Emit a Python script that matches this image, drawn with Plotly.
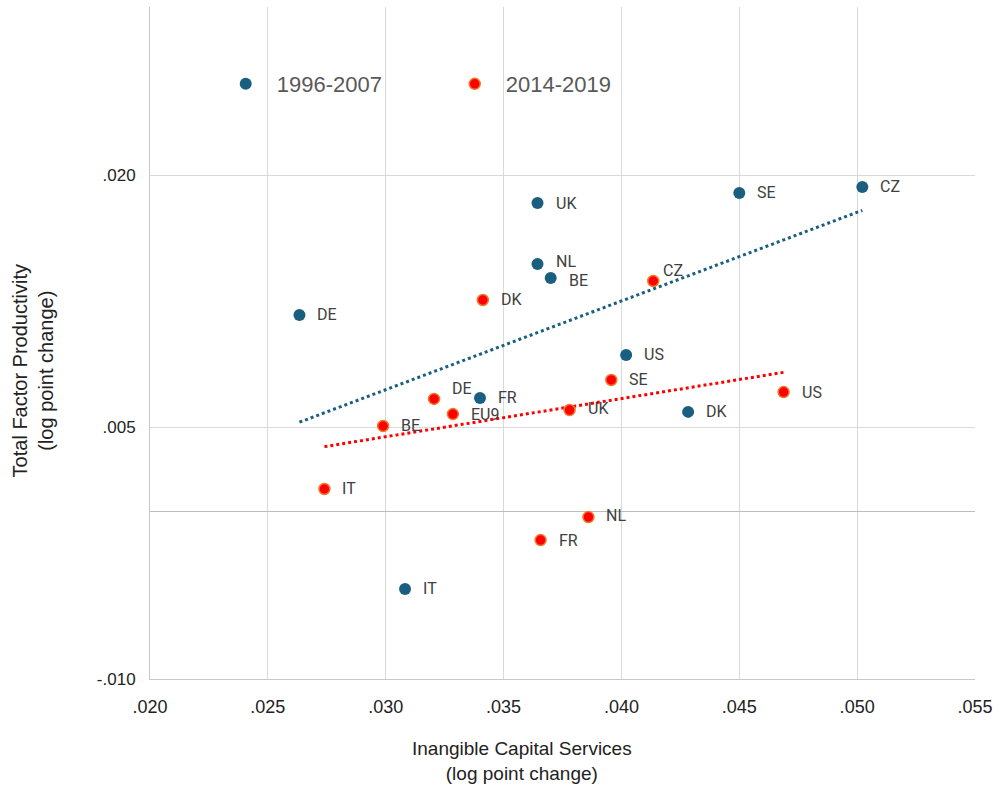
import numpy as np
import plotly.graph_objects as go

# 1996-2007 period
early_countries = ["DE", "UK", "NL", "BE", "SE", "CZ", "US", "FR", "DK", "IT"]
early_ics = [0.02634, 0.03644, 0.03644, 0.0370, 0.0450, 0.05022, 0.0402, 0.0340, 0.04283, 0.03082]
early_tfp = [0.01167, 0.01833, 0.0147, 0.01387, 0.01893, 0.01929, 0.00929, 0.00673, 0.0059, -0.00464]

# 2014-2019 period
late_countries = ["DK", "CZ", "SE", "US", "DE", "EU9", "UK", "BE", "IT", "NL", "FR"]
late_ics = [0.03412, 0.04135, 0.03957, 0.04688, 0.03205, 0.03285, 0.0378, 0.02989, 0.0274, 0.0386, 0.03657]
late_tfp = [0.01256, 0.01369, 0.0078, 0.00708, 0.00667, 0.00577, 0.00601, 0.00506, 0.00131, -0.00036, -0.00173]

x_tickvals = [0.020, 0.025, 0.030, 0.035, 0.040, 0.045, 0.050, 0.055]
x_ticktext = [".020", ".025", ".030", ".035", ".040", ".045", ".050", ".055"]
y_tickvals = [-0.010, 0.005, 0.020]
y_ticktext = ["-.010", ".005", ".020"]

BLUE = "#1b5f80"
RED = "#ff0000"
RED_EDGE = "#f07a2a"
LABEL_FONT = dict(family="Roboto, Arial, sans-serif", size=16, color="#404040")

fig = go.Figure()


def trend(xs, ys):
    xs = np.asarray(xs)
    ys = np.asarray(ys)
    slope, icpt = np.polyfit(xs, ys, 1)
    ends = np.array([xs.min(), xs.max()])
    return ends, slope * ends + icpt


# linear trend lines (dotted)
tx, ty = trend(early_ics, early_tfp)
fig.add_trace(go.Scatter(x=tx, y=ty, mode="lines", showlegend=False, hoverinfo="skip",
                         line=dict(color=BLUE, width=3, dash="dot")))
tx, ty = trend(late_ics, late_tfp)
fig.add_trace(go.Scatter(x=tx, y=ty, mode="lines", showlegend=False, hoverinfo="skip",
                         line=dict(color=RED, width=3, dash="dot")))

fig.add_trace(go.Scatter(
    x=early_ics, y=early_tfp, mode="markers", name="\u20021996-2007",
    marker=dict(size=12, color=BLUE, line=dict(width=0)),
))
fig.add_trace(go.Scatter(
    x=late_ics, y=late_tfp, mode="markers", name="\u20022014-2019",
    marker=dict(size=11, color=RED, line=dict(width=1.5, color=RED_EDGE)),
))

# country labels to the right of each point (a few nudged to avoid overlaps)
label_nudge = {("late", "DE"): (16, 10), ("late", "UK"): (16, 2), ("late", "NL"): (16, 2),
               ("late", "CZ"): (8, 11), ("early", "NL"): (16, 3), ("early", "BE"): (16, -3)}
annotations = []
for tag, names, xs, ys in (("early", early_countries, early_ics, early_tfp),
                           ("late", late_countries, late_ics, late_tfp)):
    for n, xv, yv in zip(names, xs, ys):
        dx, dy = label_nudge.get((tag, n), (16, 0))
        annotations.append(dict(
            x=xv, y=yv, xref="x", yref="y", text=n, showarrow=False,
            xanchor="left", yanchor="middle", xshift=dx, yshift=dy, font=LABEL_FONT,
        ))

# axis titles
annotations.append(dict(
    x=523, y=761, xref="paper", yref="paper", showarrow=False,
    text="Inangible Capital Services<br>(log point change)",
    font=dict(family="Liberation Sans Narrow, Arial Narrow, Arial, sans-serif", size=19, color="#222222"),
    align="center", xanchor="center", yanchor="middle",
))
annotations.append(dict(
    x=33, y=371, xref="paper", yref="paper", showarrow=False,
    text="Total Factor Productivity<br>(log point change)", textangle=-90,
    font=dict(family="Liberation Sans, Arial, sans-serif", size=20, color="#222222"),
    align="center", xanchor="center", yanchor="middle",
))

# convert the pixel-placed titles into paper coordinates
L, R, T, B = 150, 22, 7, 110
W, H = 1000, 789
pw, ph = W - L - R, H - T - B
for a in annotations[-2:]:
    a["x"] = (a["x"] - L) / pw
    a["y"] = (H - B - a["y"]) / ph

fig.update_layout(
    width=W, height=H,
    margin=dict(l=L, r=R, t=T, b=B),
    paper_bgcolor="white", plot_bgcolor="white",
    font=dict(family="Liberation Sans, Arial, sans-serif", color="#404040"),
    annotations=annotations,
    legend=dict(
        orientation="h", x=(226 - L) / pw, y=(H - B - 84) / ph,
        xanchor="left", yanchor="middle", bgcolor="rgba(0,0,0,0)",
        font=dict(family="Liberation Sans, Arial, sans-serif", size=22, color="#595959"),
        entrywidth=184, itemsizing="trace",
    ),
    xaxis=dict(
        range=[0.020, 0.055], tickvals=x_tickvals, ticktext=x_ticktext,
        showgrid=True, gridcolor="#d9d9d9", gridwidth=1,
        showline=True, linecolor="#c8c8c8", zeroline=False,
        tickfont=dict(family="Liberation Sans, Arial, sans-serif", size=18, color="#222222"),
        ticks="", ticklabelstandoff=11,
    ),
    yaxis=dict(
        range=[-0.010, 0.030], tickvals=y_tickvals, ticktext=y_ticktext,
        showgrid=True, gridcolor="#d9d9d9", gridwidth=1,
        showline=True, linecolor="#c8c8c8",
        zeroline=True, zerolinecolor="#bcbcbc", zerolinewidth=1.3,
        tickfont=dict(family="Liberation Sans, Arial, sans-serif", size=17, color="#222222"),
        ticks="", ticklabelstandoff=10,
    ),
)

fig.write_html("out.html")
